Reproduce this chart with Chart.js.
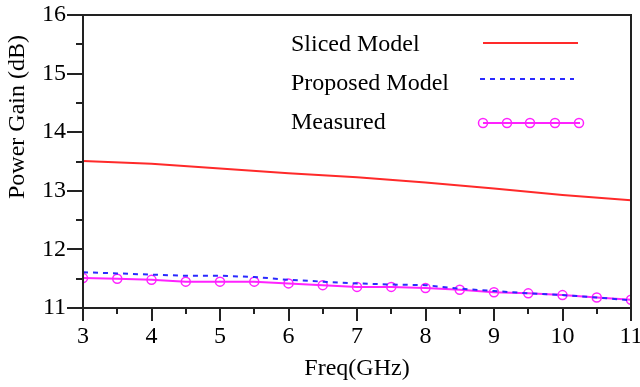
<!DOCTYPE html>
<html>
<head>
<meta charset="utf-8">
<script src="https://cdn.jsdelivr.net/npm/chart.js@4"></script>
<style>
  html, body { margin: 0; padding: 0; background: #fff; }
  #wrap { width: 640px; height: 387px; }
</style>
</head>
<body>
<div id="wrap"><canvas id="chart" width="640" height="387"></canvas></div>
<script>
// frequency points (GHz)
const freqModel = [3, 4, 5, 6, 7, 8, 9, 10, 11];
const freqHalf = [3, 3.5, 4, 4.5, 5, 5.5, 6, 6.5, 7, 7.5, 8, 8.5, 9, 9.5, 10, 10.5, 11];

// power gain (dB)
const slicedModel = [13.51, 13.46, 13.38, 13.30, 13.23, 13.14, 13.04, 12.93, 12.84];
const proposedModel = [11.61, 11.59, 11.57, 11.55, 11.55, 11.53, 11.48, 11.45, 11.42, 11.40, 11.39, 11.33, 11.29, 11.25, 11.22, 11.18, 11.13];
const measured = [11.51, 11.50, 11.48, 11.45, 11.45, 11.45, 11.42, 11.39, 11.36, 11.36, 11.34, 11.31, 11.27, 11.25, 11.22, 11.18, 11.14];

const seriesNames = ['Sliced Model', 'Proposed Model', 'Measured'];
const xTitle = 'Freq(GHz)';
const yTitle = 'Power Gain (dB)';

const FONT = '"Liberation Serif", "Times New Roman", serif';
const RED = '#ff2a2a';
const BLUE = '#2a2aff';
const MAGENTA = '#ff22ff';
const AXIS = '#222';

function pts(xs, ys) {
  return xs.map((x, i) => ({ x: x, y: ys[i] }));
}

// ticks, frame, legend and y title
const decor = {
  id: 'decor',
  afterDraw(chart) {
    const ctx = chart.ctx;
    const a = chart.chartArea;
    const xs = chart.scales.x, ys = chart.scales.y;
    ctx.save();
    ctx.strokeStyle = AXIS;
    ctx.lineWidth = 2;
    // frame
    ctx.beginPath();
    ctx.moveTo(a.left, a.bottom);
    ctx.lineTo(a.left, a.top);
    ctx.lineTo(a.right, a.top);
    ctx.lineTo(a.right, a.bottom);
    ctx.lineTo(a.left, a.bottom);
    ctx.stroke();
    // x ticks
    for (let v = 3; v <= 11.001; v += 0.5) {
      const px = Math.round(xs.getPixelForValue(v));
      const major = Math.abs(v - Math.round(v)) < 1e-6;
      ctx.beginPath();
      ctx.moveTo(px, a.bottom);
      ctx.lineTo(px, a.bottom + (major ? 13 : 6));
      ctx.stroke();
    }
    // y ticks
    for (let v = 11; v <= 16.001; v += 0.5) {
      const py = Math.round(ys.getPixelForValue(v));
      const major = Math.abs(v - Math.round(v)) < 1e-6;
      ctx.beginPath();
      ctx.moveTo(a.left, py);
      ctx.lineTo(a.left - (major ? 16 : 7), py);
      ctx.stroke();
    }
    // legend
    ctx.font = '24px ' + FONT;
    ctx.fillStyle = '#000';
    ctx.textBaseline = 'middle';
    ctx.textAlign = 'left';
    const rows = [45, 84, 123];
    seriesNames.forEach((n, i) => ctx.fillText(n, 291, rows[i]));
    ctx.lineWidth = 2;
    ctx.strokeStyle = RED;
    ctx.beginPath(); ctx.moveTo(483, 43); ctx.lineTo(578, 43); ctx.stroke();
    ctx.strokeStyle = BLUE;
    ctx.setLineDash([5, 5]);
    ctx.beginPath(); ctx.moveTo(480, 79); ctx.lineTo(574, 79); ctx.stroke();
    ctx.setLineDash([]);
    ctx.strokeStyle = MAGENTA;
    ctx.beginPath(); ctx.moveTo(483, 123); ctx.lineTo(580, 123); ctx.stroke();
    ctx.lineWidth = 1.5;
    [483, 507, 530, 555, 579].forEach(cx => {
      ctx.beginPath(); ctx.arc(cx, 123, 4.5, 0, Math.PI * 2); ctx.stroke();
    });
    // y title
    ctx.translate(18, 117);
    ctx.rotate(-Math.PI / 2);
    ctx.textAlign = 'center';
    ctx.fillStyle = '#000';
    ctx.fillText(yTitle, 0, 0);
    ctx.restore();
  }
};

new Chart(document.getElementById('chart'), {
  type: 'line',
  data: {
    datasets: [
      {
        label: seriesNames[0],
        data: pts(freqModel, slicedModel),
        borderColor: RED,
        borderWidth: 2,
        pointRadius: 0,
        tension: 0
      },
      {
        label: seriesNames[1],
        data: pts(freqHalf, proposedModel),
        borderColor: BLUE,
        borderWidth: 2,
        borderDash: [5, 5],
        pointRadius: 0,
        tension: 0
      },
      {
        label: seriesNames[2],
        data: pts(freqHalf, measured),
        borderColor: MAGENTA,
        borderWidth: 2,
        pointStyle: 'circle',
        pointRadius: 4.5,
        pointBorderWidth: 1.5,
        pointBorderColor: MAGENTA,
        pointBackgroundColor: 'rgba(255,255,255,0)',
        tension: 0
      }
    ]
  },
  options: {
    responsive: false,
    animation: false,
    layout: { padding: { top: 15, right: 9, left: 0, bottom: 0 } },
    plugins: {
      legend: { display: false },
      tooltip: { enabled: false }
    },
    scales: {
      x: {
        type: 'linear',
        min: 3,
        max: 11,
        afterFit: s => { s.height = 79; s.paddingLeft = 0; s.paddingRight = 0; },
        grid: { display: false, drawTicks: false },
        border: { display: false },
        ticks: {
          stepSize: 1,
          padding: 14,
          color: '#000',
          font: { family: FONT, size: 24 }
        },
        title: {
          display: true,
          text: xTitle,
          color: '#000',
          font: { family: FONT, size: 24 },
          padding: { top: 0 }
        }
      },
      y: {
        min: 11,
        max: 16,
        afterFit: s => { s.width = 83; s.paddingTop = 0; s.paddingBottom = 0; },
        grid: { display: false, drawTicks: false },
        border: { display: false },
        ticks: {
          stepSize: 1,
          padding: 17,
          color: '#000',
          font: { family: FONT, size: 24 }
        }
      }
    }
  },
  plugins: [decor]
});
</script>
</body>
</html>
